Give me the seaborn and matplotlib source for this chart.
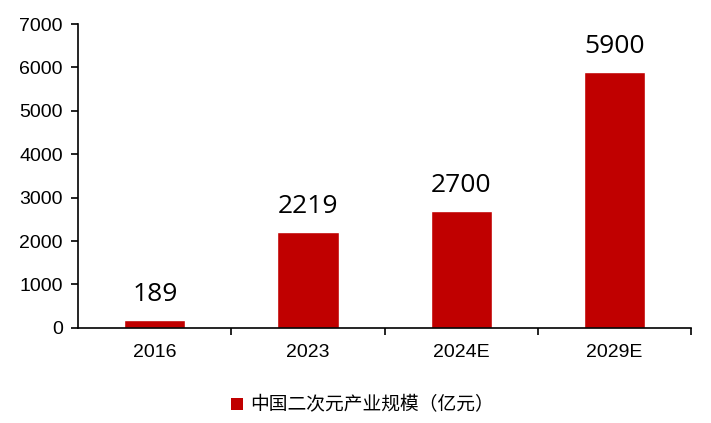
import matplotlib
matplotlib.use("Agg")
import matplotlib.pyplot as plt
import seaborn as sns
import pandas as pd
from matplotlib.ticker import FixedLocator
from matplotlib.patches import Patch

# data
years = ["2016", "2023", "2024E", "2029E"]
scale = [189, 2219, 2700, 5900]
legend_label = "中国二次元产业规模（亿元）"

df = pd.DataFrame({"year": years, "scale": scale})

sns.set_theme(style="white")
plt.rcParams["font.family"] = ["Liberation Sans", "Noto Sans CJK SC", "DejaVu Sans"]
plt.rcParams["text.color"] = "black"
plt.rcParams["xtick.color"] = "black"
plt.rcParams["ytick.color"] = "black"

fig = plt.figure(figsize=(7.11, 4.23), dpi=100)
ax = fig.add_axes([0.110, 0.225, 0.862, 0.718])

bar_color = "#C00000"
sns.barplot(data=df, x="year", y="scale", color=bar_color, width=0.4,
            saturation=1, ax=ax)

# value labels
for i, v in enumerate(scale):
    ax.text(i, v + 290, str(v), ha="center", va="bottom", fontsize=19,
            family=["Open Sans", "DejaVu Sans"], color="black")

ax.set_xlim(-0.5, len(years) - 0.5)
ax.set_ylim(0, 7000)
ax.set_yticks(range(0, 7001, 1000))
ax.set_xlabel("")
ax.set_ylabel("")

for s in ["top", "right"]:
    ax.spines[s].set_visible(False)
for s in ["left", "bottom"]:
    ax.spines[s].set_color("black")
    ax.spines[s].set_linewidth(1.2)

ax.tick_params(axis="y", which="major", direction="out", length=5, width=1.2,
               left=True, labelsize=14, pad=6, colors="black")
ax.tick_params(axis="x", which="major", length=0, labelsize=14, pad=12,
               colors="black")
ax.xaxis.set_minor_locator(FixedLocator([0.5, 1.5, 2.5, 3.5]))
ax.tick_params(axis="x", which="minor", direction="out", length=5, width=1.2,
               bottom=True, colors="black")

handle = Patch(facecolor=bar_color, edgecolor="none")
fig.legend([handle], [legend_label], loc="center", bbox_to_anchor=(0.51, 0.043),
           frameon=False, handlelength=0.6, handleheight=0.6, handletextpad=0.4,
           prop={"family": "Noto Sans CJK SC", "size": 13.5})

fig.savefig("out.png", dpi=100)
